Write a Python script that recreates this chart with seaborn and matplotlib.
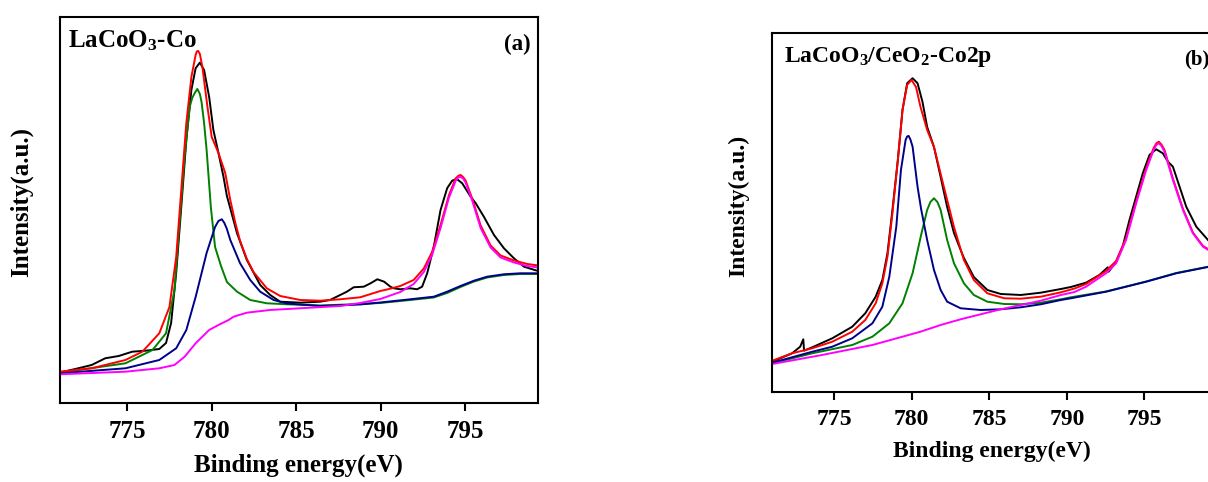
import numpy as np
import pandas as pd
import matplotlib
matplotlib.use("Agg")
import matplotlib.pyplot as plt
import seaborn as sns

# ---------------- Panel (a): LaCoO3-Co ----------------
a_raw_x = [771.0, 772.1, 772.9, 773.7, 774.5, 775.3, 776.1, 776.9, 777.3, 777.6, 777.9, 778.2, 778.5,
           778.8, 779.05, 779.3, 779.55, 779.85, 780.1, 780.4, 780.7, 780.9, 781.5, 782.08, 782.87,
           783.46, 784.05, 785.24, 786.42, 787.0, 787.4, 788.0, 788.4, 789.0, 789.4, 789.8, 790.2,
           790.57, 790.77, 791.16, 791.75, 792.15, 792.45, 792.75, 793.14, 793.54, 793.93, 794.23,
           794.5, 794.82, 795.32, 795.62, 796.1, 796.7, 797.29, 797.88, 798.47, 799.3]
a_raw_y = [30.3, 34.7, 38, 44.7, 47, 51.3, 52.3, 54, 60, 80, 130, 196, 263,
           313, 334.7, 340.3, 333, 306, 273, 250, 226, 207, 169.7, 143, 118,
           108, 101.3, 100.3, 101.3, 103, 106.3, 111.3, 115.7, 116.3, 119.7, 123.7, 121.3,
           116.3, 114.7, 113.7, 114.7, 113.7, 116.3, 129.7, 156.3, 193, 214.7, 222.3,
           224, 219.7, 206.3, 199.7, 186.3, 168, 154.7, 144.7, 136.3, 132]

a_fit_x = [771.0, 772.9, 774.9, 775.9, 776.9, 777.5, 777.9, 778.2, 778.5, 778.8, 779.05, 779.12, 779.2,
           779.3, 779.45, 779.75, 780.0, 780.4, 780.8, 781.1, 781.4, 781.68, 782.08, 782.47, 783.26,
           784.05, 785.24, 786.42, 787.61, 788.79, 789.98, 790.5, 791.16, 791.95, 792.55, 793.04,
           793.54, 794.03, 794.43, 794.58, 794.72, 794.87, 795.02, 795.42, 795.91, 796.5, 797.09,
           797.88, 798.67, 799.3]
a_fit_y = [31.3, 34.7, 43, 51.3, 69.7, 96, 146, 213, 280, 326, 348, 351.5, 352,
           349, 336, 296, 266, 250, 230, 203, 180, 162, 144, 131, 114.7,
           107, 103, 102.3, 103.7, 105.7, 112, 114, 117, 123, 134.5, 151,
           178, 207.5, 224.5, 227, 228, 226, 222.5, 204, 177.5, 157.5, 147.5,
           142.5, 139, 137.5]

a_p1_x = [771.0, 774.9, 776.5, 777.3, 777.8, 778.1, 778.4, 778.55, 778.7, 778.85, 779.0, 779.15,
          779.3, 779.4, 779.55, 779.7, 779.95, 780.2, 780.55, 780.9, 781.5, 782.28, 783.26, 784.45,
          786.42, 788.79, 789.98, 791.75, 793.14, 793.93, 794.72, 795.52, 796.3, 797.29, 798.28,
          799.3]
a_p1_y = [30.3, 39.7, 53, 69.7, 113, 180, 246, 272, 296, 305, 310, 314,
          309, 301, 280, 253, 196, 156, 137, 121, 111.3, 103, 99.7, 98.7,
          97.5, 99, 100, 103, 105.5, 110, 116, 121.5, 125.5, 128, 129,
          129]

a_p2_x = [771.0, 774.9, 776.9, 777.9, 778.5, 779.05, 779.7, 780.2, 780.4, 780.6, 780.75, 780.9,
          781.1, 781.68, 782.28, 782.87, 783.66, 784.45, 786.42, 788.79, 789.98, 791.75, 793.14,
          793.93, 794.72, 795.52, 796.3, 797.29, 798.28, 799.3]
a_p2_y = [29.7, 34.7, 43, 54.7, 73, 106, 150, 176, 182, 183.7, 180, 174,
          163, 139.7, 123, 111.3, 103, 99.5, 97, 98.5, 100.5, 103.7, 106.3,
          111.3, 117, 122.3, 126.3, 128.7, 129.7, 129.7]

a_p3_x = [771.0, 774.9, 776.9, 777.8, 778.4, 779.05, 779.85, 780.4, 781.0, 781.3, 782.08, 783.46,
          785.24, 787.61, 788.79, 789.98, 791.16, 791.95, 792.55, 793.04, 793.54, 794.03, 794.43,
          794.58, 794.72, 794.87, 795.02, 795.42, 795.91, 796.5, 797.09, 797.88, 798.67, 799.3]
a_p3_y = [28.7, 31.3, 34.7, 38, 46.3, 59.7, 73, 78, 83, 86.3, 90.3, 93,
          94.7, 97, 100, 104, 111, 119, 131, 148, 175, 205, 222,
          225.5, 226, 224.5, 220.5, 202, 175, 155.5, 145.5, 140.5, 137, 135.5]

# ---------------- Panel (b): LaCoO3/CeO2-Co2p ----------------
b_raw_x = [771.0, 772.28, 772.8, 773.0, 773.05, 773.58, 774.87, 776.16, 777.0, 777.67, 778.1, 778.43,
           778.75, 779.1, 779.4, 779.7, 780.05, 780.37, 780.69, 780.99, 781.43, 781.86, 782.28, 782.72,
           783.15, 783.36, 784.0, 784.87, 785.74, 787.03, 788.32, 789.62, 790.26, 791.24, 792.1,
           792.64, 792.7, 793.18, 793.6, 794.04, 794.47, 794.9, 795.33, 795.76, 796.19, 796.52,
           796.84, 797.27, 797.7, 798.35, 799.2]
b_raw_y = [30.3, 38.7, 45.3, 52.7, 41.3, 44.7, 53.7, 65.3, 78.7, 95.3, 112, 138.7,
           182, 232, 282, 308.7, 313.7, 308.7, 290, 265, 245, 215, 185, 159,
           142, 134, 115, 102, 98, 97, 99.3, 103, 105, 109.3, 117,
           124.7, 120.3, 130.3, 145.3, 172, 195.3, 218.7, 237, 242.7, 238.7, 230.3,
           225.3, 205.3, 185.3, 165.3, 150.3]

b_fit_x = [771.0, 772.28, 773.58, 774.87, 776.16, 777.0, 777.67, 778.1, 778.43, 778.75, 779.1, 779.4,
           779.7, 779.98, 780.27, 780.56, 780.99, 781.43, 782.07, 782.72, 783.36, 784.0, 784.87,
           785.96, 787.03, 788.32, 789.62, 790.5, 791.24, 792.53, 793.18, 793.82, 794.47, 795.12,
           795.6, 795.77, 795.93, 796.1, 796.3, 796.84, 797.49, 798.13, 798.78, 799.2]
b_fit_y = [31.3, 38.7, 43.7, 50.3, 60.3, 72, 88.7, 108.7, 135.3, 178.7, 232, 282,
           307, 312, 305, 285, 262, 245, 205, 165, 132, 112, 98.7,
           93.7, 93.3, 95.3, 99.7, 103.5, 108, 121, 131, 154, 190.5, 224,
           244, 248.5, 250.3, 247.5, 242, 213.5, 183, 159.5, 146, 142]

# first component (navy, ~779.8 eV)
b_p1_x = [771.0, 773.58, 774.87, 776.16, 777.46, 778.1, 778.55, 779.0, 779.3, 779.6, 779.7, 779.8,
          779.92, 780.05, 780.37, 780.6, 780.99, 781.43, 781.86, 782.28, 783.15, 784.44, 785.74,
          787.03, 788.32, 789.62, 790.26, 792.53, 795.12, 797.06, 799.2]
b_p1_y = [29.3, 40.3, 45.3, 53.7, 68.7, 85.3, 115.3, 165.3, 222, 252, 255.5, 256,
          252, 245.3, 205.3, 183, 152, 122, 102, 90.3, 83.7, 82, 82.7,
          84.7, 87.7, 92, 93.7, 100.3, 110.3, 118.7, 125.3]

# second component (green, ~781.4 eV)
b_p2_x = [771.0, 773.58, 776.16, 777.46, 778.55, 779.4, 780.05, 780.6, 780.99, 781.2, 781.43,
          781.65, 781.86, 782.28, 782.72, 783.36, 784.0, 784.87, 785.96, 787.03, 788.32, 789.62,
          790.26, 792.53, 795.12, 797.06, 799.2]
b_p2_y = [28.7, 38.7, 47, 55.3, 68.7, 88.7, 118.7, 157, 182, 190, 193.7,
          190, 182, 152, 128.7, 108.7, 97, 90.3, 88, 87.7, 89.3, 92.7,
          94.7, 100.5, 110.5, 119, 125.5]

b_p3_x = [771.0, 774.2, 777.46, 780.56, 781.86, 783.15, 784.44, 785.74, 787.03, 788.32, 789.62,
          790.5, 791.24, 792.53, 793.18, 793.82, 794.47, 795.12, 795.6, 795.77, 795.93, 796.1,
          796.3, 796.84, 797.49, 798.13, 798.78, 799.2]
b_p3_y = [28, 37, 47, 60.3, 67, 72.7, 77.7, 82.7, 87, 91.3, 97,
          100, 105.3, 118.7, 128.7, 152, 188.7, 222, 242, 247, 248.7, 246,
          240.3, 212, 182, 158.7, 145.3, 141.3]

x_ticks = [775, 780, 785, 790, 795]
x_tick_labels = ["775", "780", "785", "790", "795"]

BLACK = "black"
GREEN = "#008000"
NAVY = "#00008B"
RED = "#FF0000"
MAGENTA = "#FF00FF"

sns.set_theme(style="white")
plt.rcParams["font.family"] = ["Liberation Serif", "DejaVu Serif"]
plt.rcParams["font.weight"] = "bold"
plt.rcParams["text.color"] = "black"
plt.rcParams["axes.labelcolor"] = "black"
plt.rcParams["xtick.color"] = "black"
plt.rcParams["ytick.color"] = "black"
plt.rcParams["mathtext.fontset"] = "custom"
plt.rcParams["mathtext.rm"] = "Liberation Serif:bold"
plt.rcParams["mathtext.bf"] = "Liberation Serif:bold"
plt.rcParams["mathtext.default"] = "bf"

fig = plt.figure(figsize=(12.08, 4.82), dpi=100)
ax1 = fig.add_axes([0.0493, 0.1639, 0.396, 0.801])
ax2 = fig.add_axes([0.6393, 0.1867, 0.3632, 0.745])


def draw(ax, series, fs, ylim, title, tag, title_xy, tag_xy, tag_fs, ylab_xy, title_fs):
    for color, xs, ys in series:
        df = pd.DataFrame({"BE": xs, "I": ys})
        sns.lineplot(data=df, x="BE", y="I", ax=ax, color=color, lw=1.4,
                     estimator=None, sort=True)
    ax.set_xlim(771.0, 799.3)
    ax.set_ylim(*ylim)
    ax.set_xticks(x_ticks)
    ax.set_xticklabels(x_tick_labels, fontsize=fs, fontweight="bold", color="black")
    ax.set_yticks([])
    ax.tick_params(axis="x", direction="out", length=6, width=1.5, pad=6, bottom=True,
                   colors="black")
    for s in ax.spines.values():
        s.set_linewidth(1.5)
        s.set_color("black")
    ax.set_xlabel("Binding energy(eV)", fontsize=fs, fontweight="bold", labelpad=8, color="black")
    ax.set_ylabel("Intensity(a.u.)", fontsize=fs, fontweight="bold", va="center", color="black")
    ax.yaxis.set_label_coords(*ylab_xy)
    ax.text(title_xy[0], title_xy[1], title, transform=ax.transAxes, fontsize=title_fs,
            fontweight="bold", ha="left", va="baseline", color="black")
    ax.text(tag_xy[0], tag_xy[1], tag, transform=ax.transAxes, fontsize=tag_fs,
            fontweight="bold", ha="left", va="baseline", color="black")


draw(ax1,
     [(BLACK, a_raw_x, a_raw_y), (GREEN, a_p1_x, a_p1_y), (NAVY, a_p2_x, a_p2_y),
      (RED, a_fit_x, a_fit_y), (MAGENTA, a_p3_x, a_p3_y)],
     18, (0, 386), r"LaCoO$_3$-Co", "(a)", (0.017, 0.921), (0.929, 0.915), 16.5,
     (-0.08, 0.52), 18)

draw(ax2,
     [(BLACK, b_raw_x, b_raw_y), (GREEN, b_p2_x, b_p2_y), (NAVY, b_p1_x, b_p1_y),
      (RED, b_fit_x, b_fit_y), (MAGENTA, b_p3_x, b_p3_y)],
     17, (0, 359), r"LaCoO$_3$/CeO$_2$-Co2p", "(b)", (0.027, 0.92), (0.9385, 0.912), 15,
     (-0.076, 0.518), 17)

fig.savefig("out.png", dpi=100)
